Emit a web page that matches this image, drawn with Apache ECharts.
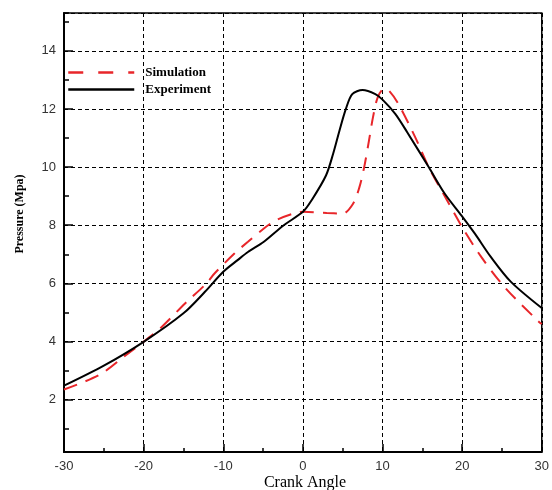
<!DOCTYPE html>
<html>
<head>
<meta charset="utf-8">
<script src="https://cdn.jsdelivr.net/npm/echarts@6/dist/echarts.min.js"></script>
<style>
    html, body { margin: 0; padding: 0; background: #fff; }
    #chart { width: 552px; height: 490px; }
</style>
</head>
<body>
<div id="chart"></div>
<script>
// Experiment curve (crank angle, pressure)
const expAngle = [-30, -25, -20, -15, -12.3, -10, -8.2, -6.9, -4.9, -2.4, 0, 1.1, 2.9, 3.8, 4.6, 5.4, 6.2, 7.5, 9.1, 10.0, 11.6, 13.1, 15.8, 17.8, 19.9, 21.6, 23.6, 26.1, 30];
const expPressure = [2.48, 3.17, 3.99, 4.97, 5.71, 6.40, 6.80, 7.08, 7.43, 8.00, 8.46, 8.86, 9.71, 10.46, 11.26, 12.0, 12.51, 12.65, 12.51, 12.32, 11.83, 11.2, 10.0, 9.09, 8.34, 7.71, 6.91, 6.06, 5.15];

// Simulation curve
const simAngle = [-30, -25.5, -22.2, -20, -17.7, -14.8, -12.1, -11.1, -8.6, -6.9, -4.9, -3.4, -1.2, 0, 3.0, 5.0, 6.3, 7.1, 7.7, 8.3, 8.8, 9.4, 10.2, 10.8, 12.0, 14.1, 15.8, 18.1, 20.1, 22.4, 25.3, 29.4, 30];
const simPressure = [2.35, 2.86, 3.54, 3.99, 4.51, 5.31, 6.0, 6.34, 7.03, 7.43, 7.89, 8.17, 8.40, 8.46, 8.42, 8.40, 8.74, 9.31, 10.0, 10.91, 11.71, 12.40, 12.69, 12.63, 12.17, 11.03, 10.0, 8.86, 7.89, 6.91, 5.88, 4.74, 4.6];

const zip = (xs, ys) => xs.map((x, i) => [x, ys[i]]);

const chart = echarts.init(document.getElementById("chart"));

const dashed = { color: "#000", width: 1, type: [4, 3] };
const labelFont = { color: "#333", fontSize: 13, fontFamily: "Liberation Sans" };

chart.setOption({
    animation: false,
    grid: {
        left: 64,
        right: 5,
        top: 13,
        bottom: 38,
        show: true,
        borderColor: "#000",
        borderWidth: 1.5,
    },
    legend: {
        orient: "vertical",
        left: 67,
        top: 66,
        padding: 0,
        itemWidth: 66,
        itemHeight: 8,
        itemGap: 4,
        itemStyle: { opacity: 0 },
        textStyle: {
            fontFamily: "Liberation Serif",
            fontWeight: "bold",
            fontSize: 13,
            color: "#000",
            padding: [0, 0, 0, 6],
        },
        data: [
            { name: "Simulation", lineStyle: { type: [15, 15], width: 2.5 } },
            { name: "Experiment", lineStyle: { width: 2.5 } },
        ],
    },
    xAxis: {
        type: "value",
        min: -30,
        max: 30,
        interval: 10,
        axisLine: { onZero: false, lineStyle: { color: "#000", width: 2 } },
        axisTick: { inside: true, length: 8, lineStyle: { color: "#000", width: 1.5 } },
        minorTick: { show: true, splitNumber: 2, length: 4, lineStyle: { color: "#000", width: 1.5 } },
        splitLine: { show: true, lineStyle: dashed },
        axisLabel: { ...labelFont, margin: 8 },
    },
    yAxis: [
        {
            type: "value",
            min: 0.2,
            max: 15.3,
            splitNumber: 7,
            axisLine: { show: true, onZero: false, lineStyle: { color: "#000", width: 2 } },
            axisTick: { inside: true, length: 9, lineStyle: { color: "#000", width: 1.5 } },
            splitLine: { show: true, lineStyle: dashed },
            axisLabel: {
                ...labelFont,
                margin: 8,
                showMinLabel: false,
                showMaxLabel: false,
            },
        },
        {
            // minor ticks at every unit
            type: "value",
            min: 0.2,
            max: 15.3,
            splitNumber: 15,
            position: "left",
            axisLine: { show: false, onZero: false },
            axisTick: { show: true, inside: true, length: 5, lineStyle: { color: "#000", width: 1.5 } },
            splitLine: { show: false },
            axisLabel: { show: false },
        },
    ],
    graphic: [
        {
            type: "text",
            x: 305,
            y: 483,
            style: {
                text: "Crank Angle",
                font: "16px 'Liberation Serif'",
                fill: "#000",
                textAlign: "center",
                textVerticalAlign: "middle",
            },
        },
        {
            type: "text",
            x: 20,
            y: 214,
            rotation: Math.PI / 2,
            style: {
                text: "Pressure (Mpa)",
                font: "bold 12px 'Liberation Serif'",
                fill: "#000",
                textAlign: "center",
                textVerticalAlign: "middle",
            },
        },
    ],
    series: [
        {
            name: "Simulation",
            type: "line",
            data: zip(simAngle, simPressure),
            smooth: 0.3,
            symbol: "none",
            lineStyle: { color: "#e8262a", width: 2, type: [14, 9] },
            itemStyle: { color: "#e8262a" },
            z: 3,
        },
        {
            name: "Experiment",
            type: "line",
            data: zip(expAngle, expPressure),
            smooth: 0.3,
            symbol: "none",
            lineStyle: { color: "#000", width: 2 },
            itemStyle: { color: "#000" },
            z: 4,
        },
    ],
});
</script>
</body>
</html>
